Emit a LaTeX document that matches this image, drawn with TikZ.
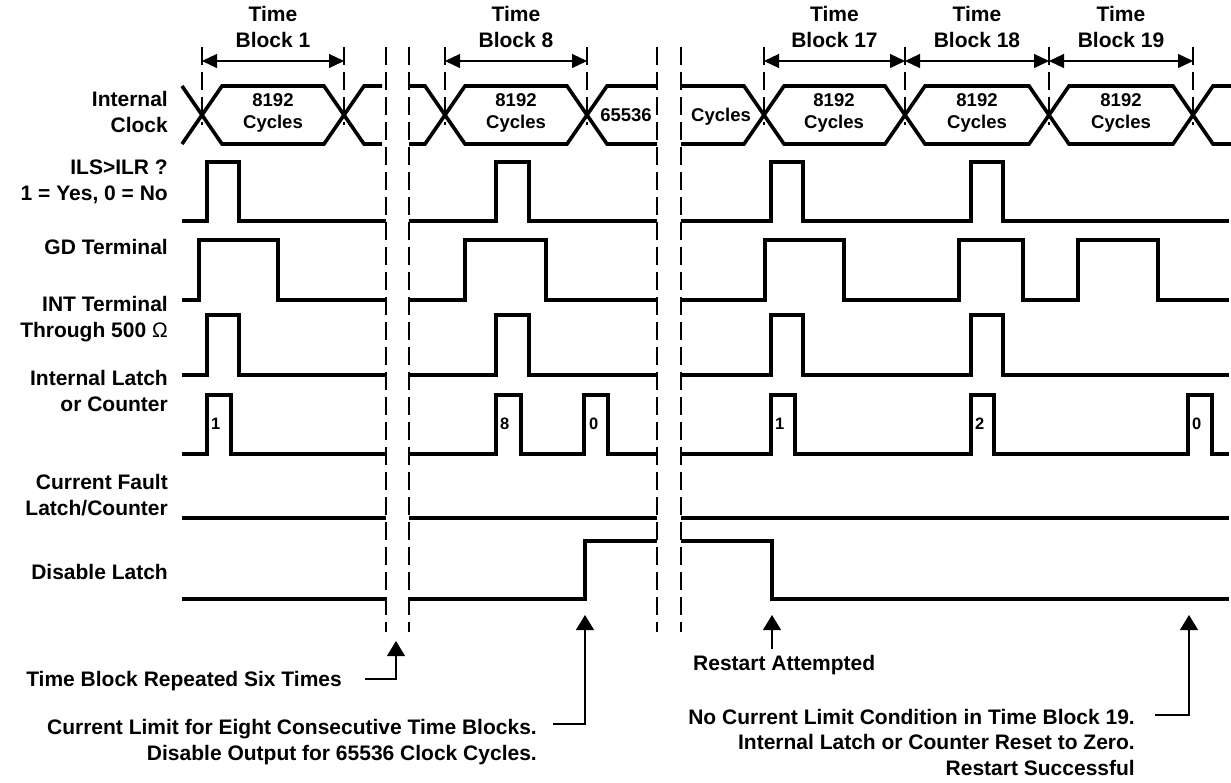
\documentclass[tikz,border=0pt]{standalone}
\usepackage{fontspec}
\setmainfont{Liberation Sans}
\usetikzlibrary{arrows.meta}

\tikzset{
  wave/.style={line width=3.6pt, line join=miter},
  guide/.style={line width=1.1pt, dash pattern=on 18pt off 7pt},
  span/.style={line width=1.2pt, {Triangle[length=15pt,width=14pt]}-{Triangle[length=15pt,width=14pt]}},
  callout/.style={line width=1.2pt, -{Triangle[length=15pt,width=18pt]}},
  lbl/.style={anchor=east, align=right, inner sep=0pt},
  cyc/.style={align=center, inner sep=0pt, font=\bfseries\fontsize{18.5}{22}\selectfont},
  cnt/.style={anchor=west, inner sep=0pt, font=\bfseries\fontsize{16.5}{18}\selectfont},
  note/.style={align=right, inner sep=0pt},
}

\begin{document}
\begin{tikzpicture}[x=1pt, y=-1pt, every node/.style={font=\bfseries\fontsize{21}{25.5}\selectfont}]
	\useasboundingbox (0,0) rectangle (1231,782);

	% Signal names on the left
	\node[lbl] (clk) at (168,112) {Internal\\Clock};
	\node[lbl] (ils) at (168,182) {ILS>ILR ?\\1 = Yes, 0 = No};
	\node[lbl] (gd) at (168,247) {GD Terminal};
	\node[lbl] (int) at (168,319) {INT Terminal\\Through 500 {\mdseries Ω}};
	\node[lbl] (latch) at (168,391) {Internal Latch\\or Counter};
	\node[lbl] (fault) at (168,495) {Current Fault\\Latch/Counter};
	\node[lbl] (dis) at (168,572) {Disable Latch};

	% Time blocks with their span arrows
	\foreach \name/\a/\b/\blk in {tb1/202/344/1, tb8/445/587/8, tb17/764/905/17, tb18/905/1049/18, tb19/1049/1193/19} {
		\coordinate (\name-l) at (\a,61);
		\coordinate (\name-r) at (\b,61);
		\node[align=center, inner sep=0pt] (\name) at ({(\a+\b)/2},27) {Time\\Block \blk};
		\draw[span] (\name-l) -- (\name-r);
	}

	% Dashed guides
	\foreach \x in {202,344,445,587,764,905,1049,1193}
		\draw[guide] (\x,47) -- (\x,125);
	\foreach \x in {386,409,657,681}
		\draw[guide] (\x,47) -- (\x,632);

	% Internal clock
	\draw[wave] (182,86) -- (222,144) -- (324,144) -- (364,86) -- (382,86);
	\draw[wave] (182,144) -- (222,86) -- (324,86) -- (364,144) -- (382,144);
	\draw[wave] (409,86) -- (425,86) -- (465,144) -- (567,144) -- (607,86) -- (657,86);
	\draw[wave] (409,144) -- (425,144) -- (465,86) -- (567,86) -- (607,144) -- (657,144);
	\draw[wave] (681,86) -- (744,86) -- (784,144) -- (885,144) -- (925,86) -- (1029,86) -- (1069,144) -- (1173,144) -- (1213,86) -- (1231,86);
	\draw[wave] (681,144) -- (744,144) -- (784,86) -- (885,86) -- (925,144) -- (1029,144) -- (1069,86) -- (1173,86) -- (1213,144) -- (1231,144);

	\node[cyc] (cyc1) at (273,113) {8192\\Cycles};
	\node[cyc] (cyc8) at (516,113) {8192\\Cycles};
	\node[cyc] (wait1) at (626,115) {65536};
	\node[cyc] (wait2) at (721,117) {Cycles};
	\node[cyc] (cyc17) at (834,113) {8192\\Cycles};
	\node[cyc] (cyc18) at (977,113) {8192\\Cycles};
	\node[cyc] (cyc19) at (1121,113) {8192\\Cycles};

	% ILS>ILR ?
	\draw[wave] (182,221) -| (207,162) -| (239,221) -- (386,221);
	\draw[wave] (409,221) -| (496,162) -| (529,221) -- (657,221);
	\draw[wave] (681,221) -| (771,162) -| (803,221) -| (971,162) -| (1003,221) -- (1229,221);

	% GD terminal
	\draw[wave] (182,300) -| (199,240) -| (278,300) -- (386,300);
	\draw[wave] (409,300) -| (465,240) -| (546,300) -- (657,300);
	\draw[wave] (681,300) -| (765,240) -| (844,300) -| (959,240) -| (1023,300) -| (1078,240) -| (1158,300) -- (1229,300);

	% INT terminal
	\draw[wave] (182,375) -| (207,315) -| (239,375) -- (386,375);
	\draw[wave] (409,375) -| (496,315) -| (529,375) -- (657,375);
	\draw[wave] (681,375) -| (771,315) -| (803,375) -| (971,315) -| (1003,375) -- (1229,375);

	% Internal latch or counter
	\draw[wave] (182,454) -| (207,395) -| (231,454) -- (386,454);
	\draw[wave] (409,454) -| (496,395) -| (521,454) -| (584,395) -| (608,454) -- (657,454);
	\draw[wave] (681,454) -| (771,395) -| (795,454) -| (971,395) -| (994,454) -| (1188,395) -| (1212,454) -- (1229,454);

	\node[cnt] (cnt1) at (211,424) {1};
	\node[cnt] (cnt8) at (500,424) {8};
	\node[cnt] (cnt0) at (589,424) {0};
	\node[cnt] (cnt1b) at (775,424) {1};
	\node[cnt] (cnt2) at (975,424) {2};
	\node[cnt] (cnt0b) at (1192,424) {0};

	% Current fault latch/counter
	\draw[wave] (182,518) -- (386,518);
	\draw[wave] (409,518) -- (657,518);
	\draw[wave] (681,518) -- (1229,518);

	% Disable latch
	\draw[wave] (182,599) -- (386,599);
	\draw[wave] (409,599) -| (585,541) -- (657,541);
	\draw[wave] (681,541) -| (772,599) -- (1229,599);

	% Notes with their arrows
	\coordinate (repTip) at (396,641);
	\coordinate (limTip) at (585,615);
	\coordinate (rstTip) at (772,615);
	\coordinate (okTip) at (1189,615);

	\node[note, anchor=east] (rep) at (342,681) {Time Block Repeated Six Times};
	\node[note, anchor=east] (lim) at (537,742) {Current Limit for Eight Consecutive Time Blocks.\\Disable Output for 65536 Clock Cycles.};
	\node[note, anchor=west] (rst) at (693,665) {Restart Attempted};
	\node[note, anchor=east] (ok) at (1135,742) {No Current Limit Condition in Time Block 19.\\Internal Latch or Counter Reset to Zero.\\Restart Successful};

	\draw[callout] ([xshift=23pt,yshift=2pt]rep.east) -| (repTip);
	\draw[callout] ([xshift=16pt,yshift=18pt]lim.east) -| (limTip);
	\draw[callout] (rst.north -| rstTip) ++(0,-6) -- (rstTip);
	\draw[callout] ([xshift=20pt,yshift=27pt]ok.east) -| (okTip);
\end{tikzpicture}
\end{document}
